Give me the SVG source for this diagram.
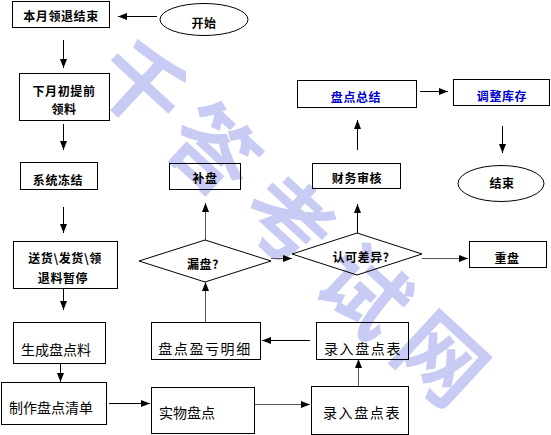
<svg xmlns="http://www.w3.org/2000/svg" width="551" height="435" viewBox="0 0 551 435">
<style>
.bx{fill:none;stroke:#000;stroke-width:1}
.b{font-family:"Noto Sans CJK SC","Liberation Sans",sans-serif;font-size:12px;font-weight:bold;fill:#000;text-anchor:middle;letter-spacing:0.6px}
.blue{fill:#0000cc}
.r{font-family:"Noto Sans CJK SC","Liberation Sans",sans-serif;font-size:14px;fill:#000;text-anchor:middle}
.w{letter-spacing:1.6px}
.e{fill:none;stroke:#000;stroke-width:1}
.g{stroke:#555}
.wm{font-family:"Noto Sans CJK SC",sans-serif;font-size:86px;font-weight:bold;fill:#c8cbf3;text-anchor:middle;dominant-baseline:central}
</style>
<defs>
<marker id="ah" markerUnits="userSpaceOnUse" markerWidth="10" markerHeight="8" refX="9" refY="4" orient="auto">
<path d="M0,0.5 L9,4 L0,7.5 Z" fill="#000"/>
</marker>
</defs>
<rect width="551" height="435" fill="#fff"/>
<g id="watermark">
<text class="wm" x="145" y="81" transform="rotate(42.7 145 81)">千</text>
<text class="wm" x="217" y="146" transform="rotate(42.7 217 146)">答</text>
<text class="wm" x="292" y="216" transform="rotate(42.7 292 216)">考</text>
<text class="wm" x="368" y="287" transform="rotate(42.7 368 287)">试</text>
<text class="wm" x="445" y="355" transform="rotate(42.7 445 355)">网</text>
</g>
<g id="connectors">
<path class="e" d="M157,16.5 L118,16.5" marker-end="url(#ah)"/>
<path class="e" d="M63.5,40 L63.5,68" marker-end="url(#ah)"/>
<path class="e" d="M63.5,124 L63.5,150" marker-end="url(#ah)"/>
<path class="e" d="M63.5,207 L63.5,233" marker-end="url(#ah)"/>
<path class="e" d="M63.5,288 L63.5,310" marker-end="url(#ah)"/>
<path class="e" d="M60.5,363 L60.5,382" marker-end="url(#ah)"/>
<path class="e" d="M109,403.5 L150,403.5" marker-end="url(#ah)"/>
<path class="e g" d="M254,404.5 L310,404.5" marker-end="url(#ah)"/>
<path class="e g" d="M358.5,386 L358.5,359" marker-end="url(#ah)"/>
<path class="e" d="M310,340.5 L262,340.5" marker-end="url(#ah)"/>
<path class="e g" d="M205.5,322 L205.5,282" marker-end="url(#ah)"/>
<path class="e g" d="M205.5,240 L205.5,203" marker-end="url(#ah)"/>
<path class="e g" d="M271,258.5 L292,258.5" marker-end="url(#ah)"/>
<path class="e g" d="M422,258.5 L468,258.5" marker-end="url(#ah)"/>
<path class="e" d="M357.5,233 L357.5,204" marker-end="url(#ah)"/>
<path class="e" d="M357.5,150 L357.5,120" marker-end="url(#ah)"/>
<path class="e" d="M420,91.5 L448,91.5" marker-end="url(#ah)"/>
<path class="e" d="M502.5,126 L502.5,153" marker-end="url(#ah)"/>
</g>
<g id="start"><ellipse class="bx" cx="204" cy="19.5" rx="44" ry="16"/><text class="b" x="204" y="27.5">开始</text></g>
<g id="n1"><rect class="bx" x="12.5" y="1.5" width="97" height="26"/><text class="b" x="61" y="20.5">本月领退结束</text></g>
<g id="n2"><rect class="bx" x="19.5" y="73.5" width="90" height="47"/><text class="b" x="64" y="95.5">下月初提前</text><text class="b" x="64" y="113.5">领料</text></g>
<g id="n3"><rect class="bx" x="20.5" y="162.5" width="77" height="27"/><text class="b" x="58" y="184.5">系统冻结</text></g>
<g id="n4"><rect class="bx" x="13.5" y="241.5" width="104" height="47"/><text class="b" x="65" y="262.5">送货\发货\领</text><text class="b" x="63" y="282.5">退料暂停</text></g>
<g id="n5"><rect class="bx" x="13.5" y="322.5" width="92" height="41"/><text class="r" x="56" y="355">生成盘点料</text></g>
<g id="n6"><rect class="bx" x="1.5" y="382.5" width="105" height="42"/><text class="r" x="51" y="413">制作盘点清单</text></g>
<g id="n7"><rect class="bx" x="151.5" y="387.5" width="103" height="46"/><text class="r" x="159" y="418" style="text-anchor:start">实物盘点</text></g>
<g id="n8"><rect class="bx" x="311.5" y="386.5" width="97" height="48"/><text class="r w" x="362" y="418">录入盘点表</text></g>
<g id="n9"><rect class="bx" x="316.5" y="322.5" width="92" height="37"/><text class="r w" x="363" y="354">录入盘点表</text></g>
<g id="n10"><rect class="bx" x="151.5" y="322.5" width="109" height="37"/><text class="r w" x="205" y="354">盘点盈亏明细</text></g>
<g id="d1"><path class="bx" d="M139,261 L205,240 L271,261 L205,282 Z"/><text class="b" x="203" y="268.5">漏盘?</text></g>
<g id="n11"><rect class="bx" x="169.5" y="163.5" width="71" height="26"/><text class="b" x="205" y="183">补盘</text></g>
<g id="d2"><path class="bx" d="M292,254 L357,233 L422,254 L357,275 Z"/><text class="b" x="361" y="261.5">认可差异?</text></g>
<g id="n12"><rect class="bx" x="469.5" y="241.5" width="77" height="26"/><text class="b" x="507" y="262.5">重盘</text></g>
<g id="n13"><rect class="bx" x="312.5" y="163.5" width="88" height="25"/><text class="b" x="357" y="182.5">财务审核</text></g>
<g id="n14"><rect class="bx" x="297.5" y="80.5" width="119" height="27"/><text class="b blue" x="356" y="101.5">盘点总结</text></g>
<g id="n15"><rect class="bx" x="453.5" y="79.5" width="96" height="26"/><text class="b blue" x="502" y="100.5">调整库存</text></g>
<g id="end"><ellipse class="bx" cx="501" cy="183.5" rx="43" ry="18"/><text class="b" x="502" y="187.5">结束</text></g>
</svg>
